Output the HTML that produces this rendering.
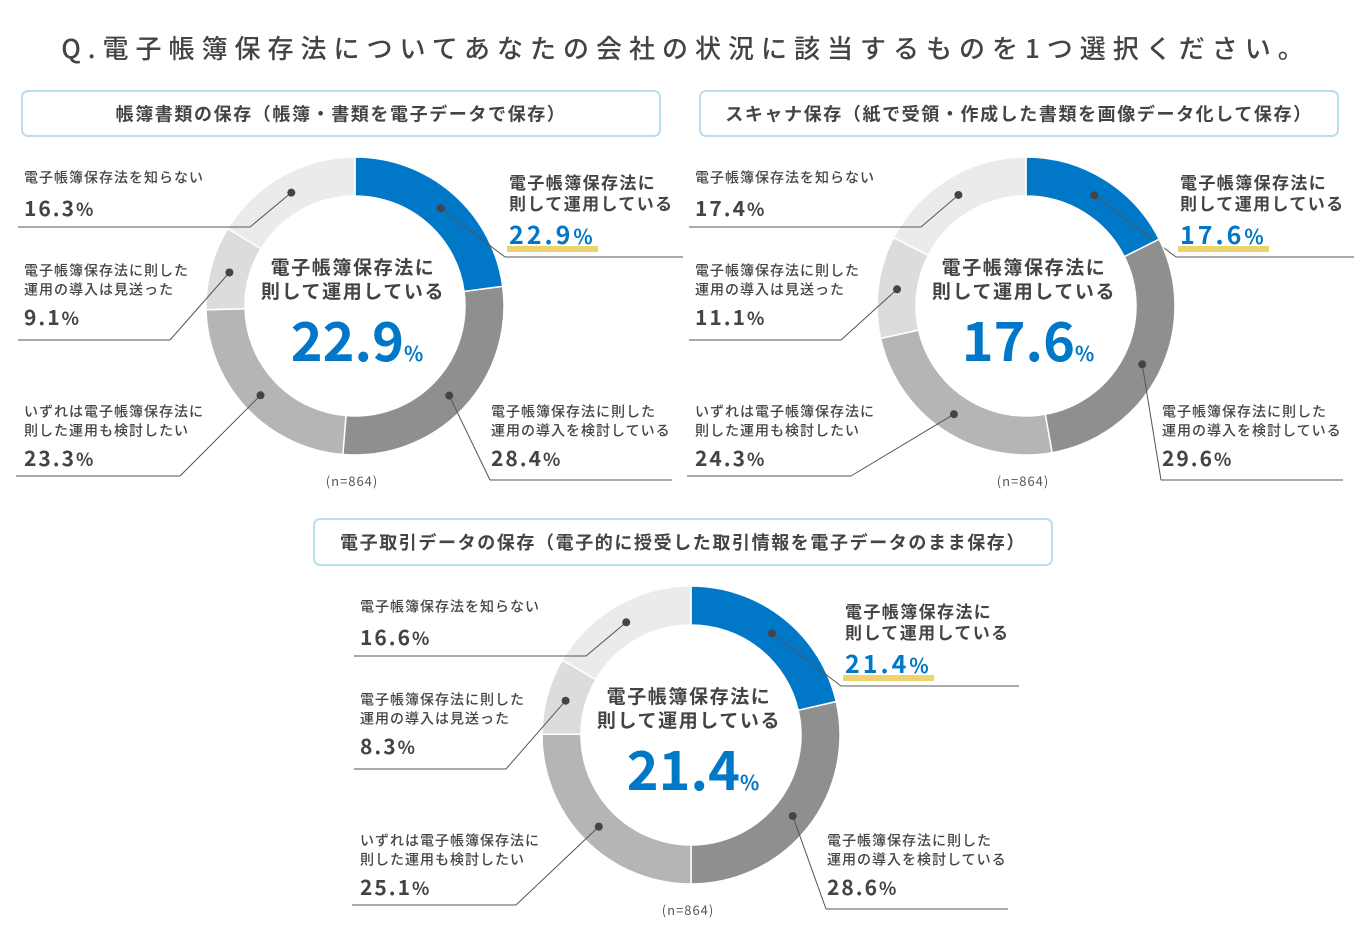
<!DOCTYPE html>
<html><head><meta charset="utf-8">
<style>
html,body{margin:0;padding:0;background:#fff;}
svg{display:block;font-family:"Liberation Sans","Noto Sans CJK JP",sans-serif;}
</style></head>
<body>
<svg id="chart" width="1366" height="927" viewBox="0 0 1366 927" xmlns="http://www.w3.org/2000/svg">
<text x="686" y="58" text-anchor="middle" font-size="26" font-weight="500" fill="#444" letter-spacing="7" style="font-family:'Noto Sans CJK JP',sans-serif">Q.電子帳簿保存法についてあなたの会社の状況に該当するものを1つ選択ください。</text>
</svg>
<script>
const chartTitles = ["帳簿書類の保存（帳簿・書類を電子データで保存）","スキャナ保存（紙で受領・作成した書類を画像データ化して保存）","電子取引データの保存（電子的に授受した取引情報を電子データのまま保存）"];
const categories = ["電子帳簿保存法に則して運用している","電子帳簿保存法に則した運用の導入を検討している","いずれは電子帳簿保存法に則した運用も検討したい","電子帳簿保存法に則した運用の導入は見送った","電子帳簿保存法を知らない"];
const values1 = [22.9, 28.4, 23.3, 9.1, 16.3];
const values2 = [17.6, 29.6, 24.3, 11.1, 17.4];
const values3 = [21.4, 28.6, 25.1, 8.3, 16.6];
const sampleLabels = ["(n=864)","(n=864)","(n=864)"];

const NS="http://www.w3.org/2000/svg";
const svg=document.getElementById('chart');
const FONT="'Noto Sans CJK JP',sans-serif";
const colors=["#0077c7","#8f8f8f","#b5b5b5","#dcdcdc","#ebebeb"];
function mk(tag,attrs,parent){const e=document.createElementNS(NS,tag);for(const k in attrs)e.setAttribute(k,attrs[k]);(parent||svg).appendChild(e);return e;}

const layouts=[
 {cx:355,cy:306,box:[22,91,638,45]},
 {cx:1026,cy:306,box:[700,91,638,45]},
 {cx:691,cy:735,box:[314,519,738,46]}
];
const labelLayout=[
 {tx:154,ty:-124,lines:2,big:true,ul:[150,683-355],uy:-49,elbow:[150,-49]},
 {tx:136,ty:105,lines:2,ul:[135,672-355],uy:174,elbow:[135,174]},
 {tx:-331,ty:105,lines:2,ul:[-339,-175],uy:170,elbow:[-175,170]},
 {tx:-331,ty:-36,lines:2,ul:[-337,-185],uy:34,elbow:[-185,34]},
 {tx:-331,ty:-129,lines:1,ul:[-337,-105],uy:-79,elbow:[-105,-79]}
];
const labelLines=[["電子帳簿保存法に","則して運用している"],["電子帳簿保存法に則した","運用の導入を検討している"],["いずれは電子帳簿保存法に","則した運用も検討したい"],["電子帳簿保存法に則した","運用の導入は見送った"],["電子帳簿保存法を知らない"]];
const slugs=["operating","considering","future","postponed","unaware"];

function xy(cx,cy,r,a){return [cx+r*Math.sin(a),cy-r*Math.cos(a)];}

[values1,values2,values3].forEach((vals,ci)=>{
 const L=layouts[ci];const cx=L.cx,cy=L.cy;
 const g=mk('g',{});
 
 
 const b=L.box;
 const box=mk('rect',{x:b[0],y:b[1],width:b[2],height:b[3],rx:6,fill:'#fff',stroke:'#bcdcf0','stroke-width':2},g);
 
 
 const bt=mk('text',{x:b[0]+b[2]/2,y:b[1]+b[3]/2+7,'text-anchor':'middle','font-size':18,'font-weight':'bold',fill:'#444','letter-spacing':1.6,style:'font-family:'+FONT},g);
 bt.textContent=chartTitles[ci];
 
 
 const total=vals.reduce((a,b)=>a+b,0);
 const R=149,r=110;let acc=0;
 vals.forEach((v,i)=>{
  const a0=acc/total*2*Math.PI;acc+=v;const a1=acc/total*2*Math.PI;
  const large=(a1-a0)>Math.PI?1:0;
  const p0=xy(cx,cy,R,a0),p1=xy(cx,cy,R,a1),q1=xy(cx,cy,r,a1),q0=xy(cx,cy,r,a0);
  const d=`M${p0[0]},${p0[1]}A${R},${R} 0 ${large} 1 ${p1[0]},${p1[1]}L${q1[0]},${q1[1]}A${r},${r} 0 ${large} 0 ${q0[0]},${q0[1]}Z`;
  const seg=mk('path',{d:d,fill:colors[i],stroke:'#fff','stroke-width':1.5},g);
  
  
  const am=(a0+a1)/2;const dp=xy(cx,cy,130,am);
  const ll=labelLayout[i];
  const ex=cx+ll.elbow[0],ey=cy+ll.elbow[1];
  const ln=mk('polyline',{points:`${dp[0]},${dp[1]} ${ex},${ey}`,fill:'none',stroke:'#555','stroke-width':1},g);
  
  
  const ul=mk('line',{x1:cx+ll.ul[0],x2:cx+ll.ul[1],y1:cy+ll.uy,y2:cy+ll.uy,stroke:'#555','stroke-width':1},g);
  
  
  const dot=mk('circle',{cx:dp[0],cy:dp[1],r:4,fill:'#444'},g);
  
  
  const tx=cx+ll.tx;let ty=cy+ll.ty;
  const fs=ll.big?17:14, lh=ll.big?21:19;
  labelLines[i].forEach((t,k)=>{
   const te=mk('text',{x:tx,y:ty+k*lh+fs*0.4,'font-size':fs,'font-weight':ll.big?'bold':'500',fill:'#444','letter-spacing':ll.big?1.4:1,style:'font-family:'+FONT},g);
   te.textContent=t;
   
   
  });
  const py=ll.big?cy-62:(cy+ll.ty+(labelLines[i].length===1?39:55));
  if(ll.big){
   const hl=mk('rect',{x:tx-2,y:py+2,width:91,height:6,fill:'#ecd36e'},g);
   
   
  }
  const pt=mk('text',{x:tx,y:py,'font-size':ll.big?25:21,'font-weight':'bold',fill:ll.big?'#0077c7':'#444',style:'font-family:'+FONT,'letter-spacing':ll.big?3:2},g);
  pt.textContent=v.toFixed(1);
  const ps=mk('tspan',{'font-size':ll.big?20:18},pt);ps.textContent='%';
  
  
 });
 ["電子帳簿保存法に","則して運用している"].forEach((t,k)=>{
  const ce=mk('text',{x:cx-2,y:cy-32+k*24,'text-anchor':'middle','font-size':19,'font-weight':'bold',fill:'#444','letter-spacing':1.6,style:'font-family:'+FONT},g);
  ce.textContent=t;
  
  
 });
 const big=mk('text',{x:cx+2,y:cy+55,'text-anchor':'middle','font-size':54,'font-weight':'bold',fill:'#0077c7',style:'font-family:'+FONT},g);
 big.textContent=vals[0].toFixed(1);
 const bs=mk('tspan',{'font-size':20},big);bs.textContent='%';
 
 
 const n=mk('text',{x:cx-3,y:cy+180,'text-anchor':'middle','font-size':13,fill:'#555','letter-spacing':1,style:'font-family:'+FONT},g);
 n.textContent=sampleLabels[ci];
 
 
});
</script>
</body></html>
